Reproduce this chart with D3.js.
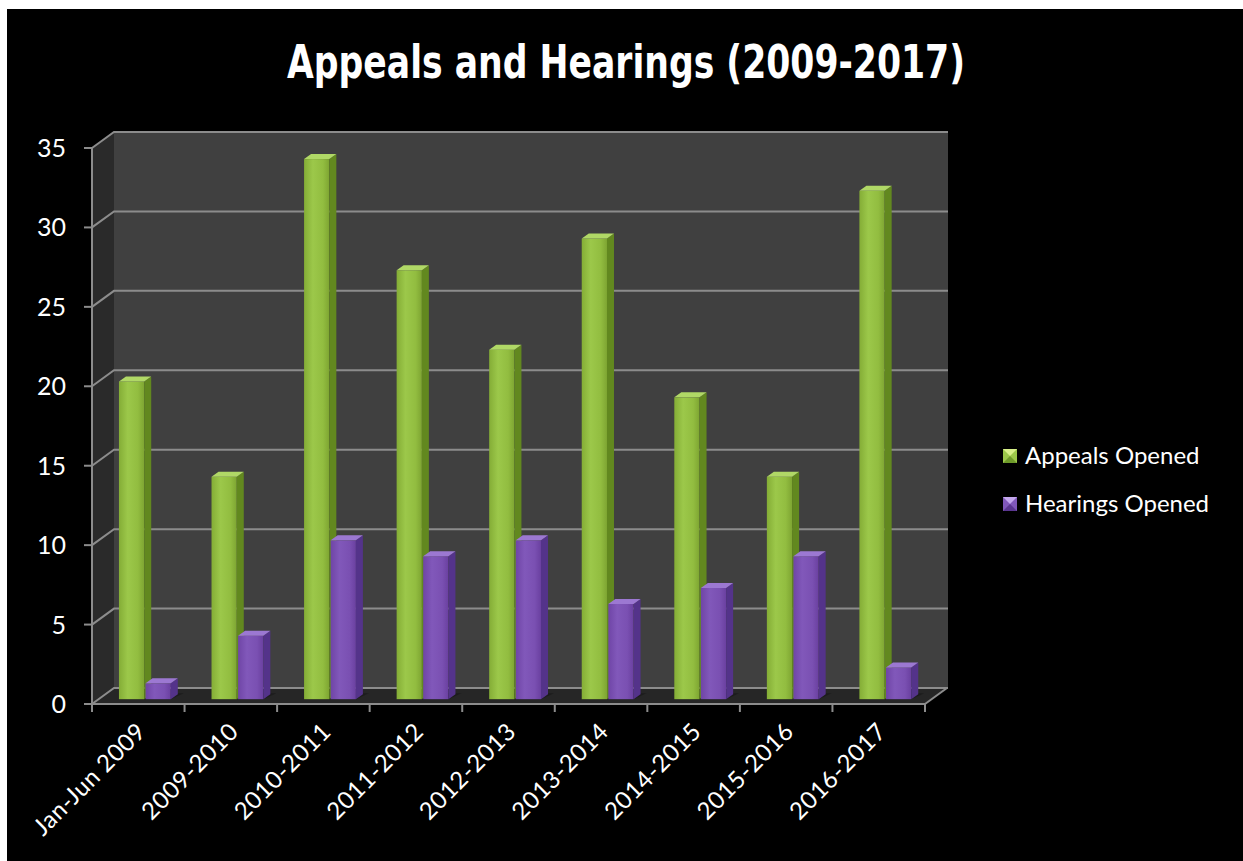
<!DOCTYPE html>
<html><head><meta charset="utf-8">
<script src="https://cdn.jsdelivr.net/npm/d3@7"></script>
<style>
html,body{margin:0;padding:0;background:#fff;}
svg{display:block;}
</style></head>
<body>
<svg id="chart" width="1243" height="861"></svg>
<script>
const categories = ["Jan-Jun 2009","2009-2010","2010-2011","2011-2012","2012-2013","2013-2014","2014-2015","2015-2016","2016-2017"];
const seriesNames = ["Appeals Opened","Hearings Opened"];
const appealsOpened = [20,14,34,27,22,29,19,14,32];
const hearingsOpened = [1,4,10,9,10,6,7,9,2];
const yTicks = [0,5,10,15,20,25,30,35];
const titleText = "Appeals and Hearings (2009-2017)";

const svg = d3.select("#chart");
const defs = svg.append("defs");

// background
svg.append("rect").attr("x",7).attr("y",9).attr("width",1236).attr("height",852).attr("fill","#000");

// geometry
const x0 = 92, x1 = 925, yBase = 704, yTop = 148;
const DX = 22, DY = -16;           // wall depth
const y = d3.scaleLinear().domain([0,35]).range([yBase,yTop]);
const x = d3.scaleBand().domain(categories).range([x0,x1]).paddingInner(0.44).paddingOuter(0.22);
const xs = d3.scaleBand().domain(seriesNames).range([0,x.bandwidth()]).paddingInner(0.05);

// gradients
function hgrad(id, stops){
  const g = defs.append("linearGradient").attr("id",id).attr("x1","0").attr("x2","1").attr("y1","0").attr("y2","0");
  stops.forEach(s=>g.append("stop").attr("offset",s[0]).attr("stop-color",s[1]));
}
hgrad("gGreen",[[0,"#84ad36"],[0.35,"#9cc84a"],[0.75,"#92bd40"],[1,"#7ea532"]]);
hgrad("gPurple",[[0,"#6f45a6"],[0.35,"#8158ba"],[0.75,"#7a50b2"],[1,"#6a40a0"]]);
const colors = {
  "Appeals Opened": {front:"url(#gGreen)", side:"#62881f", top:"#b0d866"},
  "Hearings Opened": {front:"url(#gPurple)", side:"#54338a", top:"#9c78d2"}
};

// side wall
svg.append("polygon")
  .attr("points",[[x0,yBase],[x0,yTop],[x0+DX,yTop+DY],[x0+DX,yBase+DY]].map(p=>p.join(",")).join(" "))
  .attr("fill","#2a2a2a");
// back wall
svg.append("rect").attr("x",x0+DX).attr("y",yTop+DY).attr("width",x1-x0+1).attr("height",yBase-yTop)
  .attr("fill","#404040");
// floor
svg.append("polygon")
  .attr("points",[[x0,yBase],[x1,yBase],[x1+DX,yBase+DY],[x0+DX,yBase+DY]].map(p=>p.join(",")).join(" "))
  .attr("fill","#262626");

// gridlines
const grid = svg.append("g").attr("stroke","#8c8c8c").attr("stroke-width",2).attr("fill","none");
yTicks.forEach(t=>{
  const yy = y(t);
  grid.append("path").attr("d",`M${x0},${yy}L${x0+DX},${yy+DY}L${x1+DX+1},${yy+DY}`);
});
grid.append("path").attr("d",`M${x1},${yBase}L${x1+DX},${yBase+DY}`);

// bars
const fdx = 6.6, fdy = -4.8;   // bar depth position
const sdx = 7, sdy = -5;       // bar thickness
const barsG = svg.append("g");
categories.forEach((c,i)=>{
  const vals = [appealsOpened[i], hearingsOpened[i]];
  seriesNames.forEach((s,j)=>{
    const v = vals[j];
    const xl = x(c) + xs(s) + fdx;
    const w = xs.bandwidth();
    const xr = xl + w;
    const b = y(0) + fdy;
    const t = y(v) + fdy;
    const col = colors[s];
    const g = barsG.append("g");
    g.append("polygon")
      .attr("points",[[xl,b],[xr,b],[xr+sdx+6,b+sdy-1],[xl+sdx+6,b+sdy-1]].map(p=>p.join(",")).join(" "))
      .attr("fill","#1a1a1a").attr("opacity",0.8);
    g.append("rect").attr("x",xl).attr("y",t).attr("width",w).attr("height",b-t).attr("fill",col.front);
    g.append("polygon")
      .attr("points",[[xr,t],[xr+sdx,t+sdy],[xr+sdx,b+sdy],[xr,b]].map(p=>p.join(",")).join(" "))
      .attr("fill",col.side);
    g.append("polygon")
      .attr("points",[[xl,t],[xr,t],[xr+sdx,t+sdy],[xl+sdx,t+sdy]].map(p=>p.join(",")).join(" "))
      .attr("fill",col.top);
  });
});

// front axes
const ax = svg.append("g").attr("stroke","#8c8c8c").attr("stroke-width",2).attr("fill","none");
ax.append("line").attr("x1",x0).attr("x2",x0).attr("y1",yTop).attr("y2",yBase);
ax.append("line").attr("x1",x0).attr("x2",x1).attr("y1",yBase).attr("y2",yBase);
yTicks.forEach(t=>{
  ax.append("line").attr("x1",x0-8).attr("x2",x0).attr("y1",y(t)).attr("y2",y(t));
});
const step = x.step();
d3.range(categories.length+1).forEach(k=>{
  const xx = x0 + k*step;
  ax.append("line").attr("x1",xx).attr("x2",xx).attr("y1",yBase).attr("y2",yBase+8);
});

// y labels
svg.append("g").selectAll("text").data(yTicks).join("text")
  .attr("x",66).attr("y",d=>y(d)+9)
  .attr("text-anchor","end").attr("fill","#fff")
  .attr("font-family","Lato, 'Open Sans', sans-serif").attr("font-size",25)
  .text(d=>d);

// x labels
svg.append("g").selectAll("text").data(categories).join("text")
  .attr("transform",d=>`translate(${x(d)+x.bandwidth()/2+9},${yBase+29}) rotate(-45)`)
  .attr("text-anchor","end").attr("fill","#fff")
  .attr("font-family","Lato, 'Open Sans', sans-serif").attr("font-size",24)
  .attr("letter-spacing",0.5)
  .text(d=>d);

// title
svg.append("text").attr("x",626).attr("y",78).attr("text-anchor","middle")
  .attr("fill","#fff").attr("font-weight","bold")
  .attr("font-family","'DejaVu Sans Condensed', 'Liberation Sans Narrow', 'Arial Narrow', sans-serif")
  .attr("font-size",47)
  .attr("textLength",678).attr("lengthAdjust","spacingAndGlyphs")
  .text(titleText);

// legend
const leg = svg.append("g");
const legendMarker = {
  "Appeals Opened": {top:"#d8f08a", mid:"#9cc84a", dark:"#6e9a2a"},
  "Hearings Opened": {top:"#c4a8ee", mid:"#8058ba", dark:"#5a3690"}
};
seriesNames.forEach((s,j)=>{
  const ly = 456 + j*48;
  const mx = 1003, my = ly - 7, ms = 14;
  const m = legendMarker[s];
  leg.append("rect").attr("x",mx).attr("y",my).attr("width",ms).attr("height",ms).attr("fill",m.mid);
  leg.append("polygon").attr("points",[[mx,my],[mx+ms,my],[mx+ms/2,my+ms/2]].map(p=>p.join(",")).join(" ")).attr("fill",m.top);
  leg.append("polygon").attr("points",[[mx,my+ms],[mx+ms,my+ms],[mx+ms/2,my+ms/2]].map(p=>p.join(",")).join(" ")).attr("fill",m.dark);
  leg.append("text").attr("x",1025).attr("y",ly+8).attr("fill","#fff")
    .attr("font-family","Lato, 'Open Sans', sans-serif").attr("font-size",24)
    .text(s);
});
</script>
</body></html>
